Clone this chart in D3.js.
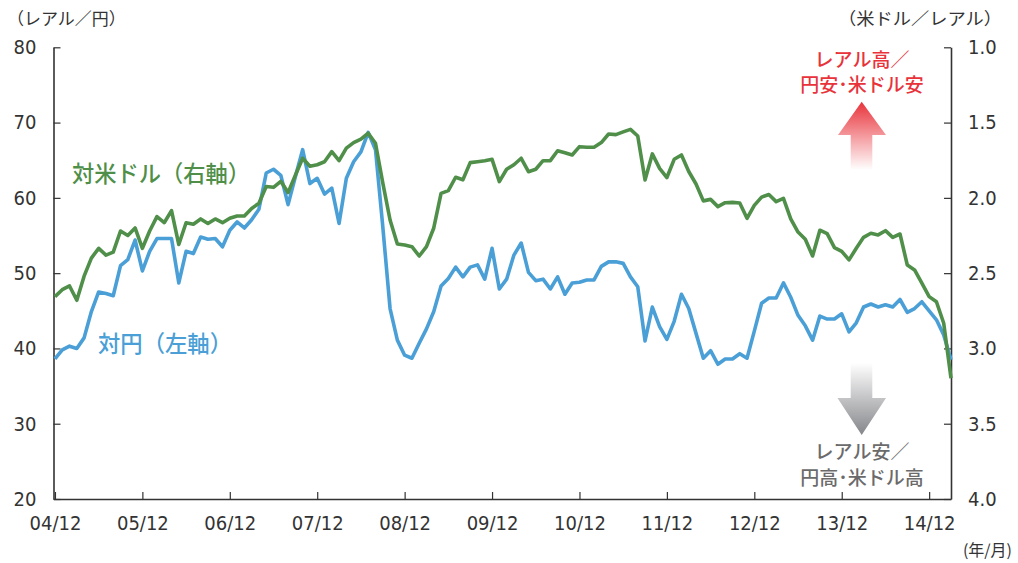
<!DOCTYPE html>
<html>
<head>
<meta charset="utf-8">
<script src="https://cdn.jsdelivr.net/npm/d3@7"></script>
<style>
body { margin: 0; background: #fff; }
text { font-family: "Liberation Sans Narrow", "DejaVu Sans Condensed", "Noto Sans CJK JP", sans-serif; }
.jp { font-family: "Noto Sans CJK JP", sans-serif; }
</style>
</head>
<body>
<div id="main"></div>
<script>
// monthly, 2004/12 .. 2015/03
var tickMonths = [0, 12, 24, 36, 48, 60, 72, 84, 96, 108, 120];
var tickLabels = ["04/12", "05/12", "06/12", "07/12", "08/12", "09/12", "10/12", "11/12", "12/12", "13/12", "14/12"];
var leftTicks = [20, 30, 40, 50, 60, 70, 80];
var rightTicks = [1.0, 1.5, 2.0, 2.5, 3.0, 3.5, 4.0];

// レアル/円 (left axis)
var yenValues = [
  38.6, 39.8, 40.3, 40.0, 41.4, 44.9, 47.5, 47.3, 47.0, 51.0, 51.8, 54.4,
  50.3, 52.9, 54.6, 54.6, 54.6, 48.7, 52.9, 52.6, 54.8, 54.5, 54.6, 53.5,
  55.7, 56.8, 56.0, 57.1, 58.5, 63.3, 63.8, 63.0, 59.1, 62.8, 66.4, 61.9,
  62.6, 60.5, 61.3, 56.6, 62.6, 64.8, 66.1, 68.7, 66.4, 56.2, 45.3, 41.1,
  39.1, 38.7, 40.7, 42.6, 44.9, 48.3, 49.3, 50.8, 49.5, 50.8, 51.1, 49.2,
  53.3, 47.9, 49.2, 52.4, 54.0, 50.1, 49.0, 49.2, 47.9, 49.5, 47.2, 48.7,
  48.8, 49.1, 49.1, 50.9, 51.5, 51.5, 51.3, 49.5, 48.2, 41.0, 45.5, 42.9,
  41.2, 43.6, 47.2, 45.3, 42.0, 38.7, 39.7, 37.9, 38.6, 38.6, 39.3, 38.7,
  42.3, 46.0, 46.7, 46.7, 48.7, 46.8, 44.4, 43.0, 41.1, 44.3, 43.9, 43.9,
  44.6, 42.2, 43.4, 45.5, 45.9, 45.5, 45.8, 45.5, 46.5, 44.8, 45.3, 46.2,
  45.0, 43.8, 41.8, 38.5
];

// 米ドル/レアル (right axis, inverted)
var usdValues = [
  2.656, 2.61, 2.585, 2.68, 2.52, 2.40, 2.335, 2.38, 2.36, 2.22, 2.25, 2.20,
  2.335, 2.22, 2.125, 2.165, 2.085, 2.31, 2.165, 2.175, 2.14, 2.17, 2.14, 2.165,
  2.135, 2.12, 2.12, 2.07, 2.036, 1.925, 1.93, 1.89, 1.965, 1.85, 1.737, 1.79,
  1.78, 1.76, 1.693, 1.753, 1.67, 1.633, 1.61, 1.571, 1.637, 1.90, 2.147, 2.306,
  2.313, 2.324, 2.386, 2.324, 2.20, 1.97, 1.952, 1.863, 1.88, 1.766, 1.76, 1.753,
  1.744, 1.892, 1.81, 1.78, 1.737, 1.826, 1.81, 1.753, 1.753, 1.687, 1.70, 1.715,
  1.66, 1.664, 1.664, 1.633, 1.576, 1.58, 1.562, 1.545, 1.589, 1.881, 1.708, 1.804,
  1.865, 1.744, 1.715, 1.825, 1.908, 2.02, 2.01, 2.058, 2.032, 2.03, 2.034, 2.136,
  2.05, 1.995, 1.978, 2.025, 2.003, 2.14, 2.227, 2.275, 2.386, 2.215, 2.238, 2.33,
  2.355, 2.412, 2.335, 2.262, 2.235, 2.246, 2.218, 2.262, 2.24, 2.446, 2.479, 2.567,
  2.656, 2.69, 2.833, 3.198
];

var width = 1018, height = 563;
var plotLeft = 53.5, plotRight = 951, plotTop = 47.3, plotBottom = 499;
var green = "#4f8f49", blue = "#4a9fd6", axisColor = "#333";

var svg = d3.select("#main").append("svg")
  .attr("width", width).attr("height", height);

var x = d3.scaleLinear().domain([-0.2, 123]).range([plotLeft, plotRight]);
var yLeft = d3.scaleLinear().domain([20, 80]).range([plotBottom, plotTop]);
var yRight = d3.scaleLinear().domain([1.0, 4.0]).range([plotTop, plotBottom]);

// gradients for arrows
var defs = svg.append("defs");
var gUp = defs.append("linearGradient").attr("id", "gUp")
  .attr("x1", 0).attr("y1", 0).attr("x2", 0).attr("y2", 1);
gUp.append("stop").attr("offset", "0%").attr("stop-color", "#e8333b");
gUp.append("stop").attr("offset", "100%").attr("stop-color", "#fff");
var gDown = defs.append("linearGradient").attr("id", "gDown")
  .attr("x1", 0).attr("y1", 0).attr("x2", 0).attr("y2", 1);
gDown.append("stop").attr("offset", "0%").attr("stop-color", "#fff");
gDown.append("stop").attr("offset", "100%").attr("stop-color", "#85868a");

// axes
function styleAxis(g) {
  g.select(".domain").attr("stroke", axisColor).attr("stroke-width", 1.6);
  g.selectAll(".tick line").attr("stroke", axisColor).attr("stroke-width", 1.2);
  g.selectAll(".tick text").attr("fill", "#333").style("font-size", "20px");
}

svg.append("g").attr("transform", "translate(" + plotLeft + ",0)")
  .call(d3.axisLeft(yLeft).tickValues(leftTicks).tickSizeInner(-7).tickSizeOuter(0).tickPadding(17))
  .call(styleAxis);

svg.append("g").attr("transform", "translate(" + plotRight + ",0)")
  .call(d3.axisRight(yRight).tickValues(rightTicks).tickFormat(d3.format(".1f"))
    .tickSizeInner(-7).tickSizeOuter(0).tickPadding(17))
  .call(styleAxis);

svg.append("g").attr("transform", "translate(0," + plotBottom + ")")
  .call(d3.axisBottom(x).tickValues(tickMonths).tickFormat(function (d, i) { return tickLabels[i]; })
    .tickSizeInner(-7).tickSizeOuter(0).tickPadding(17))
  .call(styleAxis);

// lines
var yenLine = d3.line().x(function (d, i) { return x(i); }).y(function (d) { return yLeft(d); });
var usdLine = d3.line().x(function (d, i) { return x(i); }).y(function (d) { return yRight(d); });

svg.append("path").datum(yenValues).attr("d", yenLine)
  .attr("fill", "none").attr("stroke", blue).attr("stroke-width", 3.6).attr("stroke-linejoin", "round");
svg.append("path").datum(usdValues).attr("d", usdLine)
  .attr("fill", "none").attr("stroke", green).attr("stroke-width", 3.6).attr("stroke-linejoin", "round");

// axis titles
svg.append("text").attr("class", "jp").attr("x", 7).attr("y", 25)
  .attr("fill", "#333").style("font-size", "17px").text("（レアル／円）");
svg.append("text").attr("class", "jp").attr("x", 838).attr("y", 25)
  .attr("textLength", 164).attr("lengthAdjust", "spacingAndGlyphs")
  .attr("fill", "#333").style("font-size", "17px").text("（米ドル／レアル）");
svg.append("text").attr("class", "jp").attr("x", 1012).attr("y", 556).attr("text-anchor", "end")
  .attr("fill", "#333").style("font-size", "16px").text("(年/月)");

// series labels
svg.append("text").attr("class", "jp").attr("x", 72).attr("y", 182)
  .attr("textLength", 178).attr("lengthAdjust", "spacingAndGlyphs")
  .attr("fill", green).style("font-size", "23px").style("font-weight", "500").text("対米ドル（右軸）");
svg.append("text").attr("class", "jp").attr("x", 98).attr("y", 352)
  .attr("textLength", 134).attr("lengthAdjust", "spacingAndGlyphs")
  .attr("fill", blue).style("font-size", "23px").style("font-weight", "500").text("対円（左軸）");

// direction notes
svg.append("text").attr("class", "jp").attr("x", 862).attr("y", 67).attr("text-anchor", "middle")
  .attr("fill", "#e8333b").style("font-size", "19px").style("font-weight", "500").text("レアル高／");
svg.append("text").attr("class", "jp").attr("x", 862).attr("y", 92).attr("text-anchor", "middle")
  .attr("fill", "#e8333b").style("font-size", "19px").style("font-weight", "500").text("円安･米ドル安");
svg.append("path")
  .attr("d", "M861.7,101.7 L886,135 L872.3,135 L872.3,170 L850.7,170 L850.7,135 L838,135 Z")
  .attr("fill", "url(#gUp)");

svg.append("path")
  .attr("d", "M850.7,363 L872.3,363 L872.3,398 L886,398 L861.7,435 L837.5,398 L850.7,398 Z")
  .attr("fill", "url(#gDown)");
svg.append("text").attr("class", "jp").attr("x", 862).attr("y", 459).attr("text-anchor", "middle")
  .attr("fill", "#6b6b6b").style("font-size", "19px").style("font-weight", "500").text("レアル安／");
svg.append("text").attr("class", "jp").attr("x", 862).attr("y", 485).attr("text-anchor", "middle")
  .attr("fill", "#6b6b6b").style("font-size", "19px").style("font-weight", "500").text("円高･米ドル高");
</script>
</body>
</html>
